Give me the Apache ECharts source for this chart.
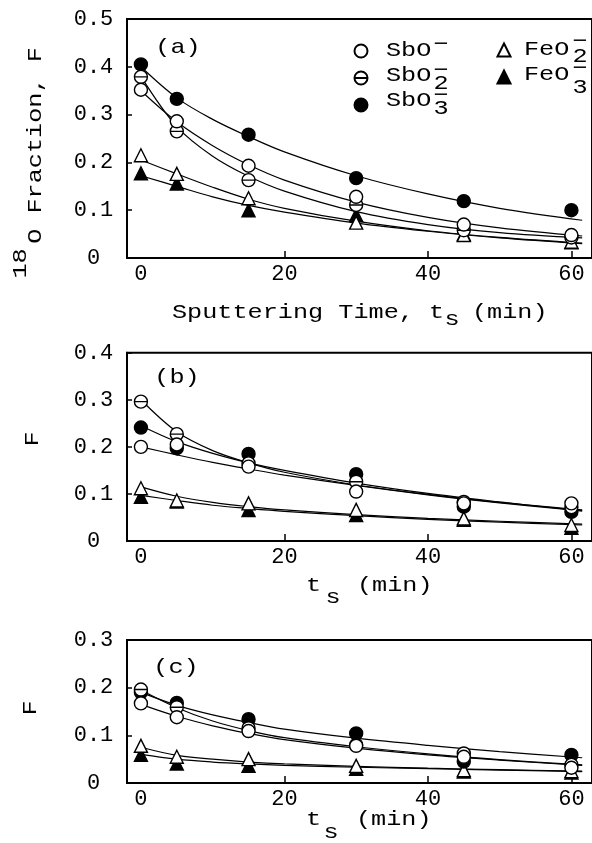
<!DOCTYPE html>
<html><head><meta charset="utf-8">
<script src="https://cdn.jsdelivr.net/npm/echarts@6/dist/echarts.min.js"></script>
<style>html,body{margin:0;padding:0;background:#fff}#c{width:592px;height:843px}</style>
</head><body><div id="c"></div>
<script>
// ---- data ----
const times = [0, 5, 15, 30, 45, 60];
const curveT = [0, 5, 10, 15, 20, 30, 40, 50, 61.5];
const xTickValues = [0, 20, 40, 60];
const xTickLabels = ['0', '20', '40', '60'];
const yTickLabels = ['0', '0.1', '0.2', '0.3', '0.4', '0.5'];
const yMax = [0.5, 0.4, 0.3];

// panel (a) measured points
const a_SbO  = [0.352, 0.286, 0.193, 0.128, 0.070, 0.048];
const a_SbO2 = [0.379, 0.265, 0.163, 0.111, 0.058, 0.043];
const a_SbO3 = [0.405, 0.333, 0.258, 0.167, 0.119, 0.100];
const a_FeO2 = [0.215, 0.176, 0.125, 0.074, 0.048, 0.034];
const a_FeO3 = [0.177, 0.156, 0.100, 0.090, 0.050, 0.033];
// panel (a) fitted curves
const ac_SbO  = [0.350, 0.285, 0.235, 0.195, 0.163, 0.117, 0.085, 0.063, 0.046];
const ac_SbO2 = [0.380, 0.275, 0.213, 0.171, 0.140, 0.097, 0.070, 0.053, 0.042];
const ac_SbO3 = [0.400, 0.335, 0.290, 0.254, 0.222, 0.172, 0.134, 0.104, 0.079];
const ac_FeO2 = [0.205, 0.176, 0.148, 0.123, 0.104, 0.077, 0.057, 0.043, 0.031];
const ac_FeO3 = [0.172, 0.150, 0.128, 0.110, 0.096, 0.073, 0.056, 0.042, 0.030];

// panel (b) measured points
const b_SbO  = [0.200, 0.205, 0.158, 0.105, 0.080, 0.080];
const b_SbO2 = [0.296, 0.227, 0.165, 0.126, 0.083, 0.072];
const b_SbO3 = [0.241, 0.197, 0.185, 0.142, 0.073, 0.062];
const b_FeO2 = [0.112, 0.086, 0.080, 0.066, 0.048, 0.034];
const b_FeO3 = [0.094, 0.084, 0.066, 0.055, 0.045, 0.028];
// panel (b) fitted curves
const bc_SbO  = [0.200, 0.183, 0.167, 0.153, 0.140, 0.118, 0.098, 0.081, 0.064];
const bc_SbO2 = [0.300, 0.232, 0.192, 0.166, 0.146, 0.119, 0.099, 0.082, 0.066];
const bc_SbO3 = [0.245, 0.211, 0.186, 0.166, 0.150, 0.123, 0.101, 0.083, 0.064];
const bc_FeO2 = [0.115, 0.095, 0.082, 0.073, 0.066, 0.056, 0.048, 0.042, 0.036];
const bc_FeO3 = [0.097, 0.086, 0.076, 0.069, 0.063, 0.054, 0.046, 0.040, 0.034];

// panel (c) measured points
const c_SbO  = [0.167, 0.138, 0.109, 0.078, 0.055, 0.032];
const c_SbO2 = [0.196, 0.159, 0.115, 0.080, 0.062, 0.038];
const c_SbO3 = [0.190, 0.168, 0.134, 0.104, 0.045, 0.059];
const c_FeO2 = [0.078, 0.055, 0.050, 0.036, 0.027, 0.025];
const c_FeO3 = [0.059, 0.041, 0.036, 0.030, 0.024, 0.022];
// panel (c) fitted curves
const cc_SbO  = [0.165, 0.140, 0.120, 0.104, 0.091, 0.073, 0.059, 0.048, 0.037];
const cc_SbO2 = [0.195, 0.158, 0.130, 0.110, 0.095, 0.076, 0.061, 0.049, 0.038];
const cc_SbO3 = [0.190, 0.163, 0.143, 0.127, 0.113, 0.094, 0.079, 0.066, 0.053];
const cc_FeO2 = [0.075, 0.058, 0.050, 0.044, 0.040, 0.035, 0.031, 0.028, 0.025];
const cc_FeO3 = [0.060, 0.050, 0.044, 0.040, 0.037, 0.033, 0.030, 0.027, 0.024];

const panels = [
  { pts: {SbO3: a_SbO3, SbO2: a_SbO2, SbO: a_SbO, FeO3: a_FeO3, FeO2: a_FeO2},
    cur: [ac_SbO, ac_SbO2, ac_SbO3, ac_FeO2, ac_FeO3] },
  { pts: {SbO3: b_SbO3, SbO2: b_SbO2, SbO: b_SbO, FeO3: b_FeO3, FeO2: b_FeO2},
    cur: [bc_SbO, bc_SbO2, bc_SbO3, bc_FeO2, bc_FeO3] },
  { pts: {SbO3: c_SbO3, SbO2: c_SbO2, SbO: c_SbO, FeO3: c_FeO3, FeO2: c_FeO2},
    cur: [cc_SbO, cc_SbO2, cc_SbO3, cc_FeO2, cc_FeO3] }
];

// ---- styling ----
const FONT = '"Liberation Mono", "DejaVu Sans Mono", monospace';
const THETA = 'path://M0,50A50,50,0,1,1,100,50A50,50,0,1,1,0,50ZM0,50L100,50';
const SYM = {
  SbO:  {name: 'SbO-',  symbol: 'circle',   color: '#fff'},
  SbO2: {name: 'SbO2-', symbol: THETA,      color: '#fff'},
  SbO3: {name: 'SbO3-', symbol: 'circle',   color: '#000'},
  FeO2: {name: 'FeO2-', symbol: 'triangle', color: '#fff'},
  FeO3: {name: 'FeO3-', symbol: 'triangle', color: '#000'}
};
const drawOrder = ['FeO3', 'FeO2', 'SbO3', 'SbO2', 'SbO'];

const grids = [
  {left: 127, top: 19, width: 467, height: 239},
  {left: 127, top: 352.7, width: 467, height: 188.3},
  {left: 127, top: 640, width: 467, height: 143}
].map(g => Object.assign(g, {show: true, borderColor: '#000', borderWidth: 2, containLabel: false}));

const xAxes = [], yAxes = [], series = [];
panels.forEach((p, i) => {
  xAxes.push({
    type: 'value', gridIndex: i, min: -1.94, max: 62.87,
    axisLine: {show: true, onZero: false, lineStyle: {color: '#000', width: 2}},
    axisTick: {show: true, inside: true, length: 7, customValues: [20, 40, 60], lineStyle: {color: '#000', width: 1.5}},
    axisLabel: {customValues: xTickValues, color: '#000', fontFamily: FONT, fontSize: 22, margin: 5,
      formatter: v => xTickLabels[xTickValues.indexOf(v)]},
    splitLine: {show: false}
  });
  yAxes.push({
    type: 'value', gridIndex: i, min: 0, max: yMax[i], interval: 0.1,
    axisLine: {show: true, onZero: false, lineStyle: {color: '#000', width: 2}},
    axisTick: {show: true, inside: true, length: 5, lineStyle: {color: '#000', width: 1.5}},
    axisLabel: {color: '#000', fontFamily: FONT, fontSize: 22, margin: 33.5, align: 'center',
      formatter: v => yTickLabels[Math.round(v * 10)]},
    splitLine: {show: false}
  });
  p.cur.forEach(arr => {
    series.push({
      type: 'line', xAxisIndex: i, yAxisIndex: i, smooth: 0.35, symbol: 'none', silent: true, z: 2,
      lineStyle: {color: '#000', width: 1.2},
      data: curveT.map((t, k) => [t, arr[k]])
    });
  });
  drawOrder.forEach(key => {
    const s = SYM[key];
    series.push({
      type: 'scatter', name: s.name, xAxisIndex: i, yAxisIndex: i, z: 3,
      symbol: s.symbol, symbolSize: 13,
      itemStyle: {color: s.color, borderColor: '#000', borderWidth: 1.4, opacity: 1},
      data: times.map((t, k) => [t, p.pts[key][k]])
    });
  });
});

function T(text, x, y, align, rot) {
  return {type: 'text', x: x, y: y, scaleX: 1.2, rotation: rot || 0, z: 10,
    style: {text: text, fill: '#000', font: '21px ' + FONT,
      textAlign: align || 'left', textVerticalAlign: 'middle'}};
}
const R = Math.PI / 2;
const graphics = [
  // y titles
  T('O Fraction, F', 35.5, 145.5, 'center', R),
  T('18', 20, 263.5, 'center', R),
  T('F', 32.5, 439, 'center', R),
  T('F', 30, 708, 'center', R),
  // panel labels
  T('(a)', 178, 47, 'center'),
  T('(b)', 177, 377, 'center'),
  T('(c)', 176, 667, 'center'),
  // x titles
  T('Sputtering Time, t', 172, 312), T('s', 452, 319, 'center'), T('(min)', 472, 312),
  T('t', 306, 585), T('s', 333, 597, 'center'), T('(min)', 357, 585),
  T('t', 306, 819), T('s', 331, 832, 'center'), T('(min)', 356, 819),
  // legend text
  T('SbO', 386, 50), T('\u2212', 441, 44, 'center'),
  T('SbO', 386, 75), T('\u2212', 441, 70.5, 'center'), T('2', 441, 83.5, 'center'),
  T('SbO', 386, 100), T('\u2212', 441, 95, 'center'), T('3', 441, 108.5, 'center'),
  T('FeO', 524, 49), T('\u2212', 580, 41, 'center'), T('2', 580, 56, 'center'),
  T('FeO', 524, 74), T('\u2212', 580, 68, 'center'), T('3', 580, 87.5, 'center')
];

const legendCommon = {orient: 'vertical', padding: 0, itemWidth: 13, itemHeight: 13, itemGap: 12,
  formatter: () => '', textStyle: {fontSize: 8, lineHeight: 8}, selectedMode: false};

const chart = echarts.init(document.getElementById('c'), null, {renderer: 'canvas'});
chart.setOption({
  animation: false,
  backgroundColor: '#fff',
  grid: grids,
  xAxis: xAxes,
  yAxis: yAxes,
  legend: [
    Object.assign({left: 353.5, top: 43.5, data: ['SbO-', 'SbO2-', 'SbO3-']}, legendCommon),
    Object.assign({left: 496.5, top: 42.5, data: ['FeO2-', 'FeO3-']}, legendCommon)
  ],
  graphic: graphics,
  series: series
});
</script></body></html>
